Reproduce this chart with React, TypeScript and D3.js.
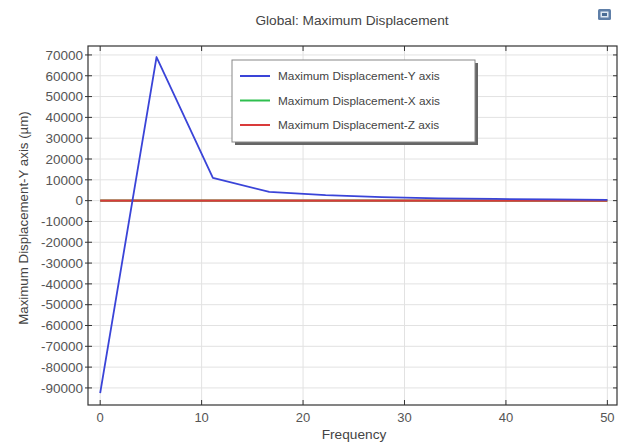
import React from "react";
import * as d3 from "d3";

const frequency = [0, 5.556, 11.111, 16.667, 22.222, 27.778, 33.333, 38.889, 44.444, 50];
const dispY = [-92500, 69000, 10900, 4200, 2600, 1700, 1100, 800, 600, 400];
const dispX = [0, 0, 0, 0, 0, 0, 0, 0, 0, 0];
const dispZ = [0, 0, 0, 0, 0, 0, 0, 0, 0, 0];
const seriesNames = [
  "Maximum Displacement-Y axis",
  "Maximum Displacement-X axis",
  "Maximum Displacement-Z axis",
];
const seriesColors = ["#3a44d8", "#2fbf4f", "#d93a3a"];
const xTicks = [0, 10, 20, 30, 40, 50];
const yTicks = [70000, 60000, 50000, 40000, 30000, 20000, 10000, 0, -10000, -20000, -30000, -40000, -50000, -60000, -70000, -80000, -90000];

const W = 626, H = 443;
const L = 88, R = 617, T = 46, B = 405;
const FONT = "'Liberation Sans', Arial, sans-serif";

export default function App() {
  const x = d3.scaleLinear().domain([-1.2, 50.95]).range([L, R]);
  const y = d3.scaleLinear().domain([-98200, 74300]).range([B, T]);
  const line = d3.line<number>().x((_, i) => x(frequency[i])).y((d) => y(d));
  const series = [dispY, dispX, dispZ];
  const drawOrder = [1, 2, 0];
  const lg = { x: 232, y: 60, w: 243, h: 82 };
  return (
    <svg width={W} height={H} style={{ position: "absolute", left: 0, top: 0, background: "#fff" }}>
      <rect x={0} y={0} width={W} height={H} fill="#fff" />
      <text x={352} y={25} textAnchor="middle" fontFamily={FONT} fontSize={13.7} fill="#444">Global: Maximum Displacement</text>
      <g transform="translate(598,9)">
        <rect x={0} y={0} width={13} height={11} rx={1.5} fill="#5f7fa8" />
        <rect x={2.5} y={2.5} width={8} height={6} fill="#dfe8f2" />
        <rect x={4} y={4} width={5} height={3} fill="#4a6c95" />
      </g>
      {xTicks.map((t) => (
        <line key={"gx" + t} x1={x(t)} x2={x(t)} y1={T} y2={B} stroke="#e2e2e2" strokeWidth={1} />
      ))}
      {yTicks.map((t) => (
        <line key={"gy" + t} x1={L} x2={R} y1={y(t)} y2={y(t)} stroke="#e2e2e2" strokeWidth={1} />
      ))}
      {drawOrder.map((si) => (
        <path key={"s" + si} d={line(series[si]) || ""} fill="none" stroke={seriesColors[si]} strokeWidth={si === 0 ? 1.8 : 2.2} strokeLinejoin="round" />
      ))}
      <rect x={L} y={T} width={R - L} height={B - T} fill="none" stroke="#333" strokeWidth={1.2} />
      {xTicks.map((t) => (
        <g key={"xt" + t}>
          <line x1={x(t)} x2={x(t)} y1={B} y2={B - 5} stroke="#333" />
          <line x1={x(t)} x2={x(t)} y1={T} y2={T + 5} stroke="#333" />
          <text x={x(t)} y={B + 17} textAnchor="middle" fontFamily={FONT} fontSize={13} fill="#555">{t}</text>
        </g>
      ))}
      {yTicks.map((t) => (
        <g key={"yt" + t}>
          <line x1={L - 3} x2={L + 4} y1={y(t)} y2={y(t)} stroke="#333" />
          <line x1={R} x2={R - 4} y1={y(t)} y2={y(t)} stroke="#333" />
          <text x={L - 5} y={y(t) + 4.8} textAnchor="end" fontFamily={FONT} fontSize={13.5} fill="#555">{t}</text>
        </g>
      ))}
      <text x={354} y={439} textAnchor="middle" fontFamily={FONT} fontSize={13.7} fill="#444">Frequency</text>
      <text transform={`translate(28,218) rotate(-90)`} textAnchor="middle" fontFamily={FONT} fontSize={13.3} fill="#444">Maximum Displacement-Y axis (µm)</text>
      <rect x={lg.x + 3} y={lg.y + 3} width={lg.w} height={lg.h} fill="#666" />
      <rect x={lg.x} y={lg.y} width={lg.w} height={lg.h} fill="#fff" stroke="#888" strokeWidth={1} />
      {seriesNames.map((n, i) => (
        <g key={"lg" + i}>
          <line x1={lg.x + 8} x2={lg.x + 38} y1={lg.y + 16 + i * 24.5} y2={lg.y + 16 + i * 24.5} stroke={seriesColors[i]} strokeWidth={2} />
          <text x={lg.x + 46} y={lg.y + 20.3 + i * 24.5} fontFamily={FONT} fontSize={11.8} fill="#444">{n}</text>
        </g>
      ))}
    </svg>
  );
}
